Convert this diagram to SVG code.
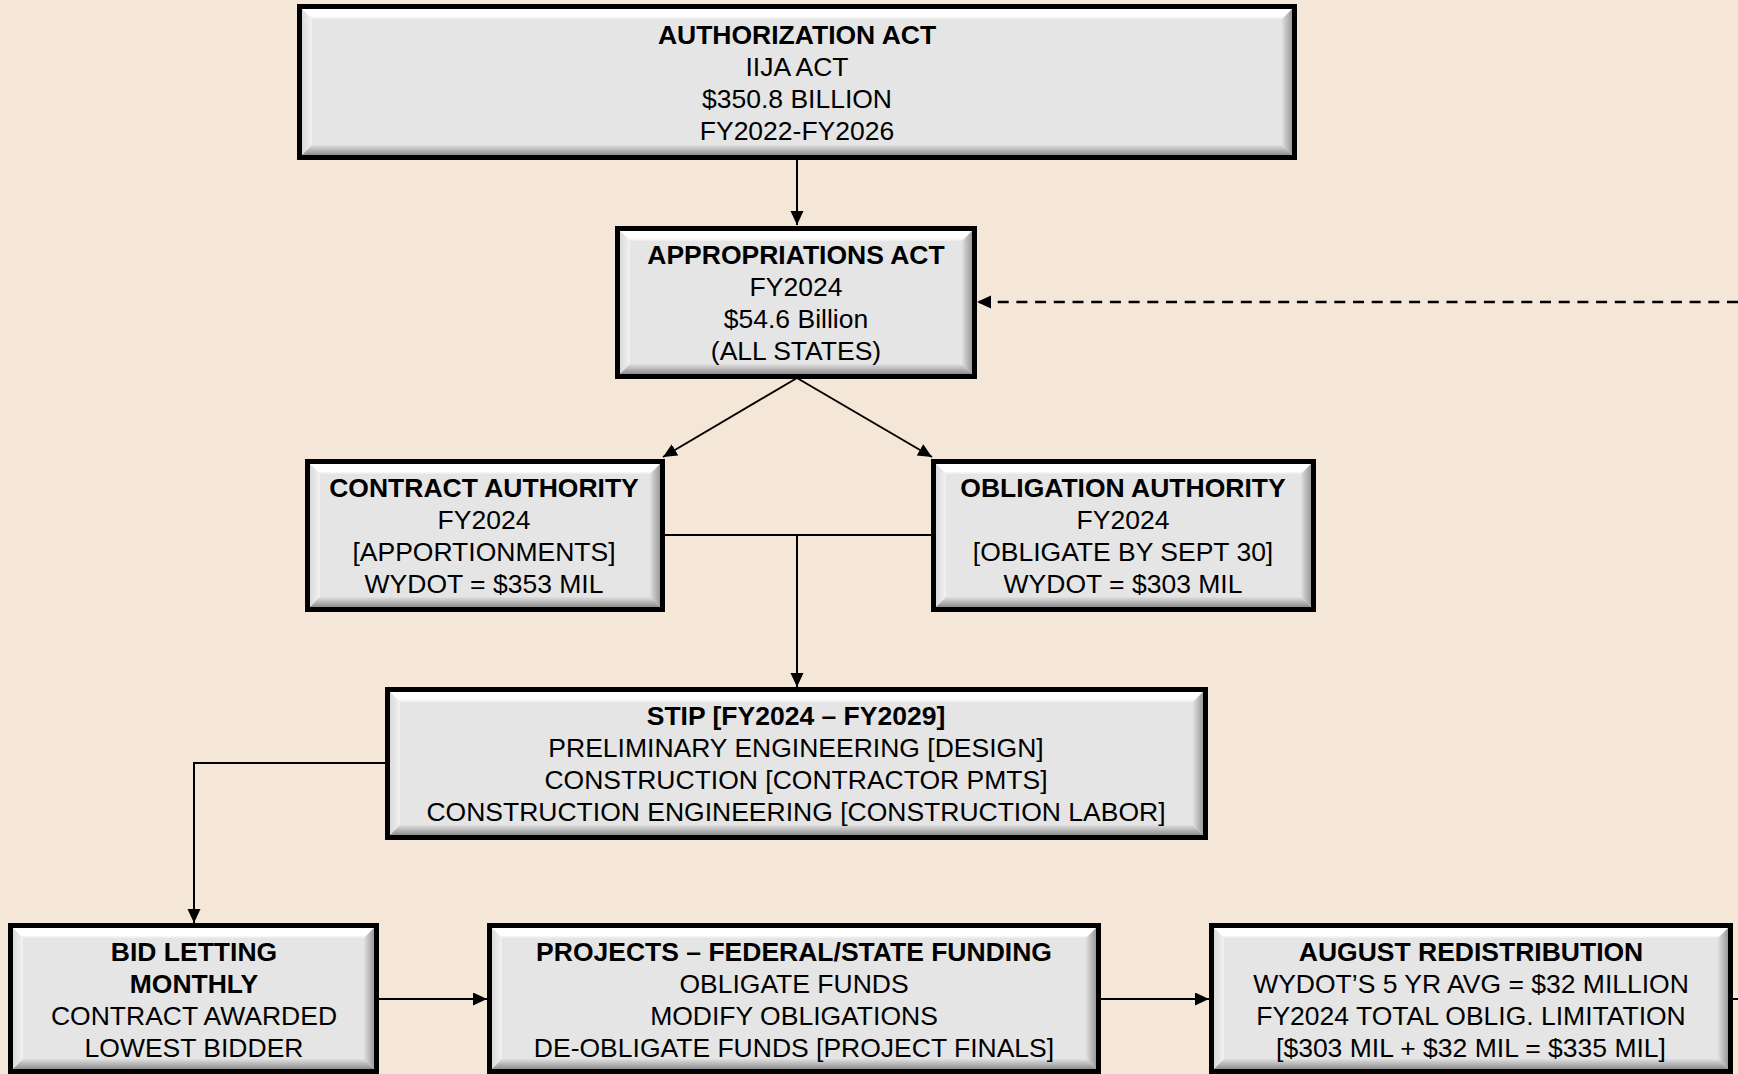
<svg xmlns="http://www.w3.org/2000/svg" width="1738" height="1074" viewBox="0 0 1738 1074">
<defs>
<style>
.box{fill:#e5e5e5;stroke:#000;stroke-width:5}
.bt{fill:url(#gt)}
.bl{fill:url(#gl)}
.bb{fill:url(#gb)}
.br{fill:url(#gr)}
text{font-family:"Liberation Sans",Arial,sans-serif;font-size:26.5px;fill:#000;text-anchor:middle}
.b{font-weight:bold}
.ln{fill:none;stroke:#000;stroke-width:2}
.dash{fill:none;stroke:#000;stroke-width:2.5;stroke-dasharray:11 7.7}
</style>
<linearGradient id="gt" x1="0" y1="0" x2="0" y2="1"><stop offset="0" stop-color="#ffffff"/><stop offset="0.7" stop-color="#ffffff"/><stop offset="1" stop-color="#ececec"/></linearGradient>
<linearGradient id="gl" x1="0" y1="0" x2="1" y2="0"><stop offset="0" stop-color="#dadada"/><stop offset="1" stop-color="#f2f2f2"/></linearGradient>
<linearGradient id="gb" x1="0" y1="0" x2="0" y2="1"><stop offset="0" stop-color="#e0e0e0"/><stop offset="1" stop-color="#8e8e8e"/></linearGradient>
<linearGradient id="gr" x1="0" y1="0" x2="1" y2="0"><stop offset="0" stop-color="#e0e0e0"/><stop offset="1" stop-color="#9a9a9a"/></linearGradient>
<marker id="ah" markerUnits="userSpaceOnUse" markerWidth="16" markerHeight="14" refX="14" refY="6.5" orient="auto">
<path d="M0,0 L14,6.5 L0,13 z" fill="#000"/>
</marker>
</defs>
<rect width="1738" height="1074" fill="#f5e7d8"/>

<g id="connectors">
<line class="ln" x1="797" y1="159" x2="797" y2="225" marker-end="url(#ah)"/>
<line class="ln" x1="797" y1="378" x2="663" y2="457" marker-end="url(#ah)"/>
<line class="ln" x1="797" y1="378" x2="932" y2="457" marker-end="url(#ah)"/>
<line class="ln" x1="663" y1="535" x2="932" y2="535"/>
<line class="ln" x1="797" y1="535" x2="797" y2="687" marker-end="url(#ah)"/>
<polyline class="ln" points="386,763 194,763 194,923" marker-end="url(#ah)"/>
<line class="ln" x1="378" y1="999" x2="487" y2="999" marker-end="url(#ah)"/>
<line class="ln" x1="1100" y1="999" x2="1209" y2="999" marker-end="url(#ah)"/>
<line class="ln" x1="1732" y1="999" x2="1738" y2="999"/>
<line class="dash" x1="1738" y1="302" x2="977" y2="302" marker-end="url(#ah)"/>
</g>

<g id="authorization">
<rect class="box" x="299.5" y="6.5" width="995" height="151"/>
<polygon class="bt" points="302,9 1292,9 1282,19 312,19"/>
<polygon class="bl" points="302,9 312,19 312,145 302,155"/>
<polygon class="bb" points="302,155 1292,155 1282,145 312,145"/>
<polygon class="br" points="1292,9 1292,155 1282,145 1282,19"/>
<text class="b" x="797" y="43.5">AUTHORIZATION ACT</text>
<text x="797" y="75.5">IIJA ACT</text>
<text x="797" y="107.5">$350.8 BILLION</text>
<text x="797" y="139.5">FY2022-FY2026</text>
</g>

<g id="appropriations">
<rect class="box" x="617.5" y="228.5" width="357" height="148"/>
<polygon class="bt" points="620,231 972,231 962,241 630,241"/>
<polygon class="bl" points="620,231 630,241 630,364 620,374"/>
<polygon class="bb" points="620,374 972,374 962,364 630,364"/>
<polygon class="br" points="972,231 972,374 962,364 962,241"/>
<text class="b" x="796" y="264">APPROPRIATIONS ACT</text>
<text x="796" y="296">FY2024</text>
<text x="796" y="328">$54.6 Billion</text>
<text x="796" y="360">(ALL STATES)</text>
</g>

<g id="contract">
<rect class="box" x="307.5" y="461.5" width="355" height="148"/>
<polygon class="bt" points="310,464 660,464 650,474 320,474"/>
<polygon class="bl" points="310,464 320,474 320,597 310,607"/>
<polygon class="bb" points="310,607 660,607 650,597 320,597"/>
<polygon class="br" points="660,464 660,607 650,597 650,474"/>
<text class="b" x="484" y="497">CONTRACT AUTHORITY</text>
<text x="484" y="529">FY2024</text>
<text x="484" y="561">[APPORTIONMENTS]</text>
<text x="484" y="593">WYDOT = $353 MIL</text>
</g>

<g id="obligation">
<rect class="box" x="933.5" y="461.5" width="380" height="148"/>
<polygon class="bt" points="936,464 1311,464 1301,474 946,474"/>
<polygon class="bl" points="936,464 946,474 946,597 936,607"/>
<polygon class="bb" points="936,607 1311,607 1301,597 946,597"/>
<polygon class="br" points="1311,464 1311,607 1301,597 1301,474"/>
<text class="b" x="1123" y="497">OBLIGATION AUTHORITY</text>
<text x="1123" y="529">FY2024</text>
<text x="1123" y="561">[OBLIGATE BY SEPT 30]</text>
<text x="1123" y="593">WYDOT = $303 MIL</text>
</g>

<g id="stip">
<rect class="box" x="387.5" y="689.5" width="818" height="148"/>
<polygon class="bt" points="390,692 1203,692 1193,702 400,702"/>
<polygon class="bl" points="390,692 400,702 400,825 390,835"/>
<polygon class="bb" points="390,835 1203,835 1193,825 400,825"/>
<polygon class="br" points="1203,692 1203,835 1193,825 1193,702"/>
<text class="b" x="796" y="724.5">STIP [FY2024 – FY2029]</text>
<text x="796" y="756.5">PRELIMINARY ENGINEERING [DESIGN]</text>
<text x="796" y="788.5">CONSTRUCTION [CONTRACTOR PMTS]</text>
<text x="796" y="820.5">CONSTRUCTION ENGINEERING [CONSTRUCTION LABOR]</text>
</g>

<g id="bidletting">
<rect class="box" x="10.5" y="925.5" width="366" height="146"/>
<polygon class="bt" points="13,928 374,928 364,938 23,938"/>
<polygon class="bl" points="13,928 23,938 23,1059 13,1069"/>
<polygon class="bb" points="13,1069 374,1069 364,1059 23,1059"/>
<polygon class="br" points="374,928 374,1069 364,1059 364,938"/>
<text class="b" x="194" y="960.5">BID LETTING</text>
<text class="b" x="194" y="992.5">MONTHLY</text>
<text x="194" y="1024.5">CONTRACT AWARDED</text>
<text x="194" y="1056.5">LOWEST BIDDER</text>
</g>

<g id="projects">
<rect class="box" x="489.5" y="925.5" width="609" height="146"/>
<polygon class="bt" points="492,928 1096,928 1086,938 502,938"/>
<polygon class="bl" points="492,928 502,938 502,1059 492,1069"/>
<polygon class="bb" points="492,1069 1096,1069 1086,1059 502,1059"/>
<polygon class="br" points="1096,928 1096,1069 1086,1059 1086,938"/>
<text class="b" x="794" y="960.5">PROJECTS – FEDERAL/STATE FUNDING</text>
<text x="794" y="992.5">OBLIGATE FUNDS</text>
<text x="794" y="1024.5">MODIFY OBLIGATIONS</text>
<text x="794" y="1056.5">DE-OBLIGATE FUNDS [PROJECT FINALS]</text>
</g>

<g id="august">
<rect class="box" x="1211.5" y="925.5" width="519" height="146"/>
<polygon class="bt" points="1214,928 1728,928 1718,938 1224,938"/>
<polygon class="bl" points="1214,928 1224,938 1224,1059 1214,1069"/>
<polygon class="bb" points="1214,1069 1728,1069 1718,1059 1224,1059"/>
<polygon class="br" points="1728,928 1728,1069 1718,1059 1718,938"/>
<text class="b" x="1471" y="960.5">AUGUST REDISTRIBUTION</text>
<text x="1471" y="992.5">WYDOT’S 5 YR AVG = $32 MILLION</text>
<text x="1471" y="1024.5">FY2024 TOTAL OBLIG. LIMITATION</text>
<text x="1471" y="1056.5">[$303 MIL + $32 MIL = $335 MIL]</text>
</g>
</svg>
